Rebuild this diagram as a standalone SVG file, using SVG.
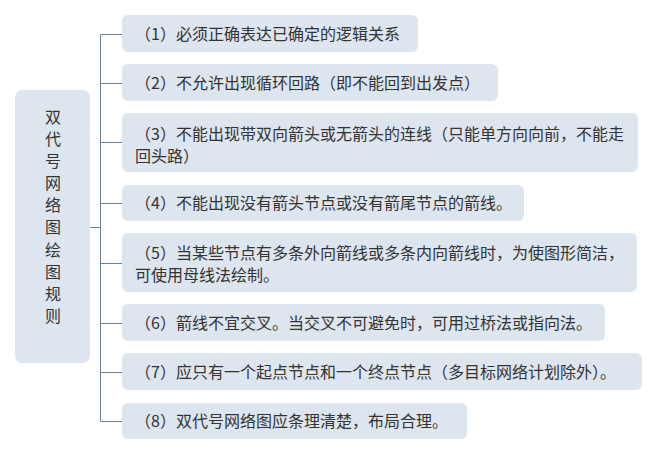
<svg xmlns="http://www.w3.org/2000/svg" width="659" height="456" viewBox="0 0 659 456">
<style>
.box{fill:#dde5ef;}
.t{font-family:"Microsoft YaHei","Noto Sans CJK SC","Noto Sans",sans-serif;font-size:16px;fill:#333333;}
.root{font-family:"Microsoft YaHei","Noto Sans CJK SC","Noto Sans",sans-serif;font-size:16px;fill:#333333;text-anchor:middle;}
.c{fill:none;stroke:#6b8299;stroke-width:1;}
</style>
<rect width="659" height="456" fill="#ffffff"/>
<g id="connectors">
<path class="c" d="M89.5,227.5 H100.5 M100.5,34.5 V421.5 M100.5,34.5 H122 M100.5,83.5 H122 M100.5,142.5 H122 M100.5,203.5 H122 M100.5,263.5 H122 M100.5,323.5 H122 M100.5,372.5 H122 M100.5,421.5 H122"/>
</g>
<g id="root">
<rect class="box" x="15" y="90" width="75" height="273" rx="7"/>
<text class="root" x="53" y="123">双</text>
<text class="root" x="53" y="145">代</text>
<text class="root" x="53" y="167">号</text>
<text class="root" x="53" y="189">网</text>
<text class="root" x="53" y="211">络</text>
<text class="root" x="53" y="233">图</text>
<text class="root" x="53" y="256">绘</text>
<text class="root" x="53" y="278">图</text>
<text class="root" x="53" y="300">规</text>
<text class="root" x="53" y="322">则</text>
</g>
<g id="n1">
<rect class="box" x="122" y="15" width="296" height="37" rx="6"/>
<text class="t" x="135" y="40">（1）必须正确表达已确定的逻辑关系</text>
</g>
<g id="n2">
<rect class="box" x="122" y="64" width="376" height="37" rx="6"/>
<text class="t" x="135" y="89">（2）不允许出现循环回路（即不能回到出发点）</text>
</g>
<g id="n3">
<rect class="box" x="122" y="113" width="516" height="59" rx="6"/>
<text class="t" x="135" y="140">（3）不能出现带双向箭头或无箭头的连线（只能单方向向前，不能走</text>
<text class="t" x="135" y="162">回头路）</text>
</g>
<g id="n4">
<rect class="box" x="122" y="185" width="402" height="36" rx="6"/>
<text class="t" x="135" y="209">（4）不能出现没有箭头节点或没有箭尾节点的箭线。</text>
</g>
<g id="n5">
<rect class="box" x="122" y="233" width="515" height="59" rx="6"/>
<text class="t" x="135" y="259">（5）当某些节点有多条外向箭线或多条内向箭线时，为使图形简洁，</text>
<text class="t" x="135" y="281">可使用母线法绘制。</text>
</g>
<g id="n6">
<rect class="box" x="122" y="304" width="483" height="37" rx="6"/>
<text class="t" x="135" y="329">（6）箭线不宜交叉。当交叉不可避免时，可用过桥法或指向法。</text>
</g>
<g id="n7">
<rect class="box" x="122" y="353" width="520" height="37" rx="6"/>
<text class="t" x="135" y="378">（7）应只有一个起点节点和一个终点节点（多目标网络计划除外）。</text>
</g>
<g id="n8">
<rect class="box" x="122" y="403" width="345" height="36" rx="6"/>
<text class="t" x="135" y="427">（8）双代号网络图应条理清楚，布局合理。</text>
</g>
</svg>
